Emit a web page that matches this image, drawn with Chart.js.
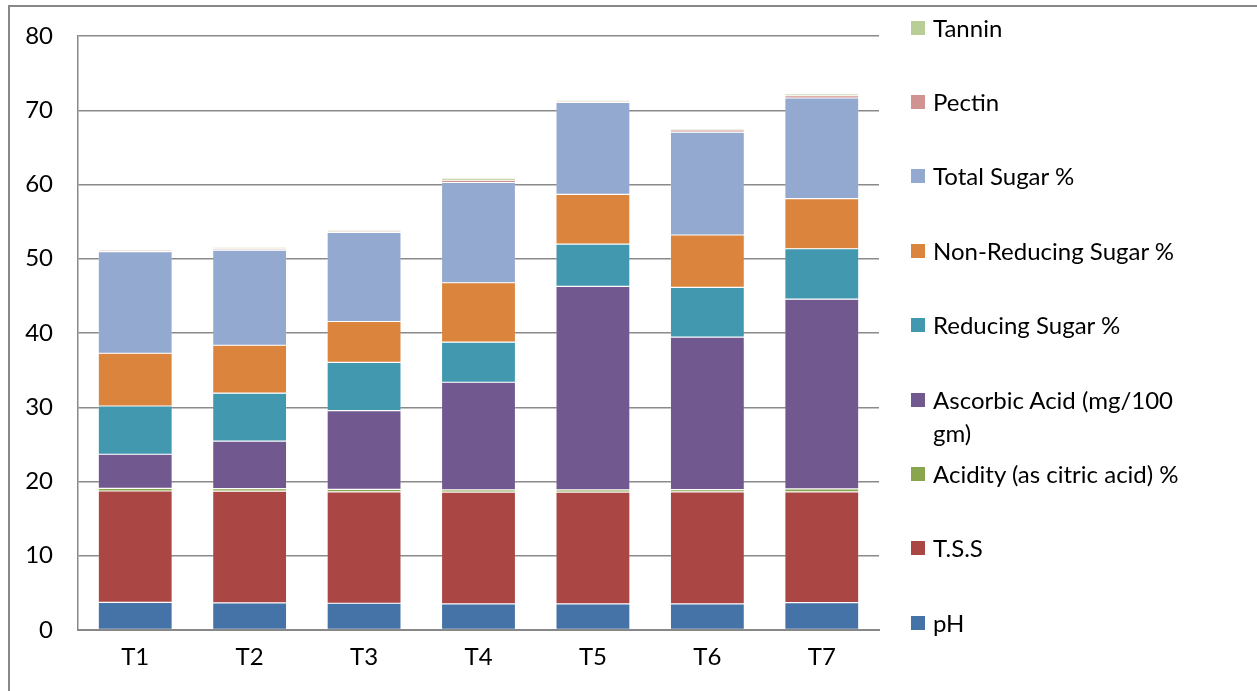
<!DOCTYPE html>
<html>
<head>
<meta charset="utf-8">
<script src="https://cdn.jsdelivr.net/npm/chart.js@4/dist/chart.umd.min.js"></script>
<style>
  html, body { margin: 0; padding: 0; background: #fff; overflow: hidden; }
  #wrap { position: relative; width: 1257px; height: 691px; }
  #frame { position: absolute; left: 8px; top: 5px; width: 1300px; height: 740px;
           border: 2px solid #888; box-sizing: border-box; }
  #chart { position: absolute; left: 0; top: 0; }
  #legend { position: absolute; left: 0; top: 0; width: 1257px; height: 691px; pointer-events: none; }
  .item { position: absolute; left: 911px; display: flex; align-items: flex-start;
          font-family: Lato, "Open Sans", sans-serif; font-size: 24px; line-height: 33px; color: #000; }
  .sw { width: 14px; height: 14px; margin-top: 10px; margin-right: 8px; flex: none; }
  .txt { max-width: 255px; }
</style>
</head>
<body>
<div id="wrap">
  <div id="frame"></div>
  <canvas id="chart" width="1257" height="691"></canvas>
  <div id="legend"></div>
</div>
<script>
// Treatments
const categories = ['T1', 'T2', 'T3', 'T4', 'T5', 'T6', 'T7'];

// Quality parameters per treatment
const pH            = [3.72, 3.64, 3.60, 3.51, 3.51, 3.51, 3.70];
const tss           = [15.0, 15.06, 15.0, 15.06, 15.06, 15.09, 14.9];
const acidity       = [0.35, 0.35, 0.35, 0.30, 0.30, 0.30, 0.40];
const ascorbicAcid  = [4.6, 6.4, 10.6, 14.5, 27.4, 20.55, 25.55];
const reducingSugar = [6.5, 6.45, 6.5, 5.4, 5.7, 6.7, 6.8];
const nonReducing   = [7.1, 6.45, 5.5, 8.0, 6.7, 7.05, 6.75];
const totalSugar    = [13.7, 12.8, 12.0, 13.5, 12.4, 13.85, 13.55];
const pectin        = [0.20, 0.20, 0.20, 0.30, 0.20, 0.30, 0.30];
const tannin        = [0.15, 0.20, 0.20, 0.30, 0.20, 0.20, 0.25];

// Y axis range
const yMin = 0, yMax = 80, yStep = 10;

const series = [
  { label: 'pH', data: pH, color: '#4572A7' },
  { label: 'T.S.S', data: tss, color: '#AA4643' },
  { label: 'Acidity (as citric acid) %', data: acidity, color: '#89A54E' },
  { label: 'Ascorbic Acid (mg/100 gm)', data: ascorbicAcid, color: '#71588F' },
  { label: 'Reducing Sugar %', data: reducingSugar, color: '#4198AF' },
  { label: 'Non-Reducing Sugar %', data: nonReducing, color: '#DB843D' },
  { label: 'Total Sugar %', data: totalSugar, color: '#93A9CF' },
  { label: 'Pectin', data: pectin, color: '#D19392' },
  { label: 'Tannin', data: tannin, color: '#B9CD96' }
];

const FONT = { family: 'Lato, "Open Sans", sans-serif', size: 24 };

const chart = new Chart(document.getElementById('chart'), {
  type: 'bar',
  data: {
    labels: categories,
    datasets: series.map(s => ({
      label: s.label,
      data: s.data,
      backgroundColor: s.color,
      borderColor: 'rgba(255,255,255,0.3)',
      borderWidth: 0.6,
      borderSkipped: false,
      categoryPercentage: 1.0,
      barPercentage: 0.647
    }))
  },
  options: {
    responsive: false,
    animation: false,
    devicePixelRatio: 1,
    layout: { padding: { left: 0, top: 36, right: 378, bottom: 0 } },
    plugins: { legend: { display: false }, tooltip: { enabled: false } },
    scales: {
      x: {
        stacked: true,
        grid: { display: false, drawTicks: false },
        border: { display: true, color: '#888', width: 2 },
        ticks: { color: '#000', font: FONT, padding: 13 },
        afterFit: s => { s.height = 61; }
      },
      y: {
        stacked: true,
        min: yMin, max: yMax,
        grid: { color: '#8a8a8a', lineWidth: 1.5, drawTicks: false },
        border: { display: true, color: '#888', width: 1.5 },
        ticks: { stepSize: yStep, color: '#000', font: FONT, padding: 25 },
        afterFit: s => {
          s.width = 78;
          // keep the label gap from pushing the plot area down
          s.paddingTop = 0;
          s.paddingBottom = 0;
        }
      }
    }
  }
});

// Legend, listed top-down in reverse stacking order
const legend = document.getElementById('legend');
const ds = chart.data.datasets.slice().reverse();
const firstCenter = 27, spacing = 74.4;
ds.forEach((d, i) => {
  const item = document.createElement('div');
  item.className = 'item';
  item.style.top = (firstCenter + i * spacing - 16.5) + 'px';
  const sw = document.createElement('span');
  sw.className = 'sw';
  sw.style.background = d.backgroundColor;
  const t = document.createElement('span');
  t.className = 'txt';
  t.textContent = d.label;
  item.appendChild(sw);
  item.appendChild(t);
  legend.appendChild(item);
});
</script>
</body>
</html>
